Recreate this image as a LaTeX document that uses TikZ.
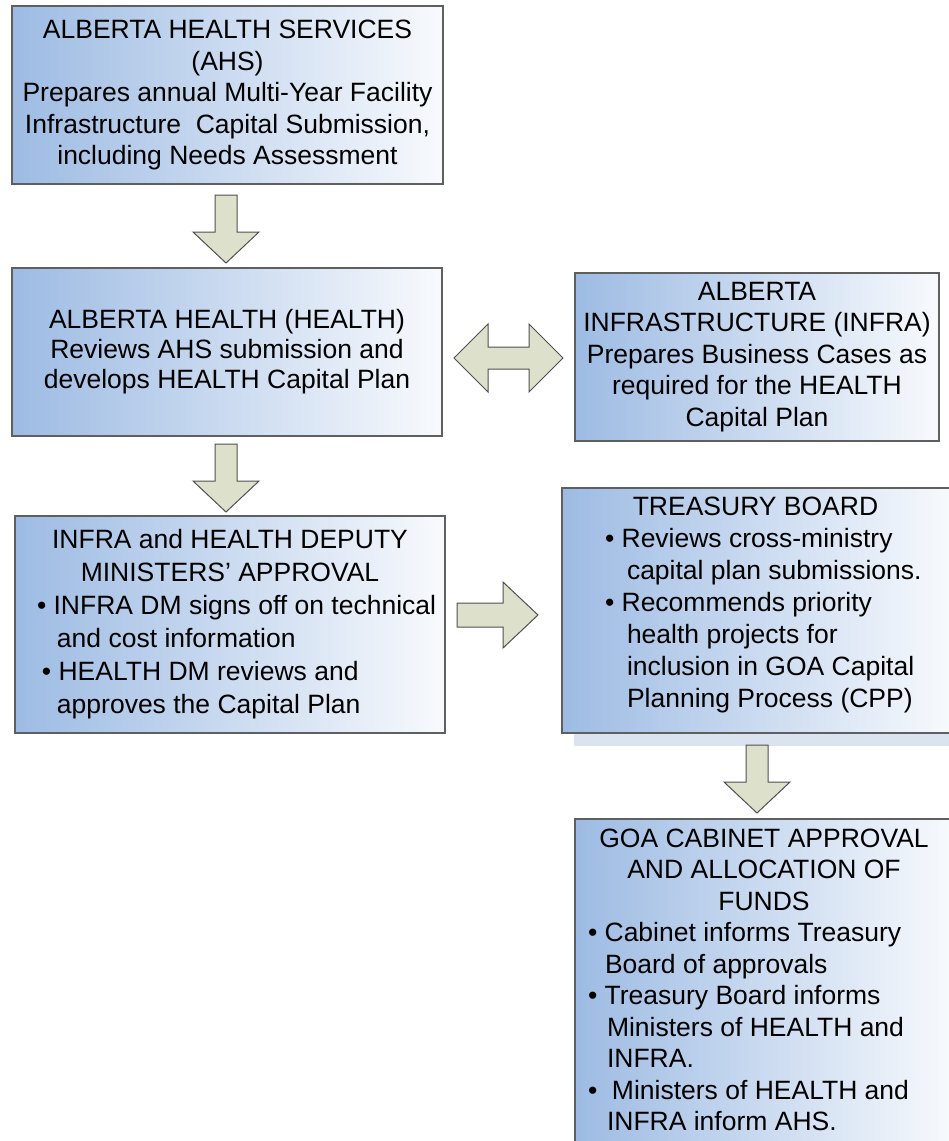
\documentclass[tikz,border=0pt]{standalone}
\usepackage{fontspec}
\setmainfont{Liberation Sans}
\definecolor{boxl}{RGB}{157,187,227}
\definecolor{boxr}{RGB}{248,250,253}
\definecolor{bordergray}{RGB}{95,95,95}
\definecolor{arrowfill}{RGB}{221,225,203}
\definecolor{arrowline}{RGB}{80,80,80}
\definecolor{shadowbl}{RGB}{219,227,240}
\begin{document}
\begin{tikzpicture}[x=1pt,y=-1pt,
  box/.style={draw=bordergray, line width=1.1pt, left color=boxl, right color=boxr, inner sep=0pt},
  barrow/.style={draw=arrowline, fill=arrowfill, line width=1pt, line join=miter},
  txt/.style={font=\fontsize{26.5}{31.5}\selectfont, align=center, inner sep=0pt, text=black},
  dnarrow/.pic={\draw[barrow] (-11,0) -- (11,0) -- (11,37) -- (33,37) -- (0,68) -- (-33,37) -- (-11,37) -- cycle;},
  rtarrow/.pic={\draw[barrow] (0,-12) -- (46,-12) -- (46,-33) -- (81,0) -- (46,33) -- (46,12) -- (0,12) -- cycle;},
  dblarrow/.pic={\draw[barrow] (0,0) -- (34,-34) -- (34,-11) -- (75,-11) -- (75,-34) -- (109,0) -- (75,34) -- (75,11) -- (34,11) -- (34,34) -- cycle;}
]
\useasboundingbox (0,0) rectangle (949,1141);
\begin{scope}
\clip (0,0) rectangle (949,1141);
% boxes
\node[box, minimum width=431pt, minimum height=178pt] (ahs) at (227.5,95) {};
\node[box, minimum width=430pt, minimum height=168pt] (health) at (227,352) {};
\node[box, minimum width=364pt, minimum height=168pt] (infra) at (757,357) {};
\node[box, minimum width=430pt, minimum height=217pt] (deputy) at (230,624.5) {};
\fill[shadowbl] (574,500) rectangle (960,746);
\node[box, minimum width=392pt, minimum height=245pt] (treasury) at (758,610.5) {};
\node[box, minimum width=380pt, minimum height=340pt] (goa) at (765,989) {};
% texts
\node[txt] (ahst) at (ahs.center) {ALBERTA HEALTH SERVICES\\(AHS)\\Prepares annual Multi-Year Facility\\Infrastructure\ \ Capital Submission,\\including Needs Assessment};
\node[txt, font=\fontsize{26.5}{30}\selectfont] (healtht) at (health.center) {ALBERTA HEALTH (HEALTH)\\Reviews AHS submission and\\develops HEALTH Capital Plan};
\node[txt] (infrat) at (infra.center) {ALBERTA\\INFRASTRUCTURE (INFRA)\\Prepares Business Cases as\\required for the HEALTH\\Capital Plan};
\node[txt, font=\fontsize{26.5}{33}\selectfont] (deputyt) at (deputy.center) {\parbox{430pt}{\centering INFRA and HEALTH DEPUTY\\MINISTERS’ APPROVAL\par
\raggedright
\hspace*{22pt}•\ INFRA DM signs off on technical\\
\hspace*{42pt}and cost information\\
\hspace*{27pt}•\ HEALTH DM reviews and\\
\hspace*{42pt}approves the Capital Plan}};
\node[txt, font=\fontsize{26.5}{32}\selectfont, anchor=center] (treasuryt) at (755.5,605) {\parbox{387pt}{\centering TREASURY BOARD\par
\raggedright
\hspace*{43pt}•\ Reviews cross-ministry\\
\hspace*{65pt}capital plan submissions.\\
\hspace*{43pt}•\ Recommends priority\\
\hspace*{65pt}health projects for\\
\hspace*{65pt}inclusion in GOA Capital\\
\hspace*{65pt}Planning Process (CPP)}};
\node[txt, anchor=center] (goat) at (764,980) {\parbox{378pt}{\centering GOA CABINET APPROVAL\\AND ALLOCATION OF\\FUNDS\par
\raggedright
\hspace*{13pt}•\ Cabinet informs Treasury\\
\hspace*{30pt}Board of approvals\\
\hspace*{13pt}•\ Treasury Board informs\\
\hspace*{32pt}Ministers of HEALTH and\\
\hspace*{32pt}INFRA.\\
\hspace*{13pt}•\ \ Ministers of HEALTH and\\
\hspace*{32pt}INFRA inform AHS.}};
% block arrows
\pic at (226,195) {dnarrow};
\pic at (226,444) {dnarrow};
\pic at (757,745) {dnarrow};
\pic at (457,615) {rtarrow};
\pic at (454,358) {dblarrow};
\end{scope}
\end{tikzpicture}
\end{document}
